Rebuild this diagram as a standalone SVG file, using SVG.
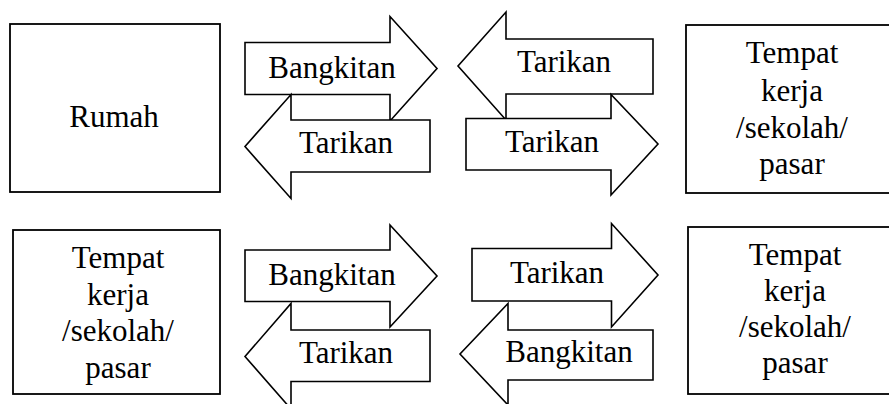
<svg xmlns="http://www.w3.org/2000/svg" width="889" height="404" viewBox="0 0 889 404">
  <style>
    .box { fill: #ffffff; stroke: #000000; stroke-width: 1.8; }
    .arrow { fill: #ffffff; stroke: #000000; stroke-width: 1.6; stroke-linejoin: miter; }
    .lbl { font-family: 'Liberation Serif', 'DejaVu Serif', serif; font-size: 31px; fill: #000000; text-anchor: middle; }
  </style>
  <rect width="889" height="404" fill="#ffffff"/>

  <!-- Places -->
  <g id="rumah">
    <rect class="box" x="10" y="24" width="210" height="168"/>
    <text class="lbl" x="114" y="127">Rumah</text>
  </g>
  <g id="tempat-kanan-atas">
    <rect class="box" x="686" y="25" width="220" height="168"/>
    <text class="lbl" x="792" y="63">Tempat</text>
    <text class="lbl" x="792" y="101">kerja</text>
    <text class="lbl" x="792" y="138">/sekolah/</text>
    <text class="lbl" x="792" y="174">pasar</text>
  </g>
  <g id="tempat-kiri-bawah">
    <rect class="box" x="13" y="230" width="207" height="164"/>
    <text class="lbl" x="118" y="268">Tempat</text>
    <text class="lbl" x="118" y="305">kerja</text>
    <text class="lbl" x="118" y="341">/sekolah/</text>
    <text class="lbl" x="118" y="378">pasar</text>
  </g>
  <g id="tempat-kanan-bawah">
    <rect class="box" x="688" y="227" width="220" height="167"/>
    <text class="lbl" x="795" y="265">Tempat</text>
    <text class="lbl" x="795" y="301">kerja</text>
    <text class="lbl" x="795" y="337">/sekolah/</text>
    <text class="lbl" x="795" y="373">pasar</text>
  </g>

  <!-- Flow arrows -->
  <g id="connectors">
    <g id="a1-bangkitan">
      <polygon class="arrow" points="245,42.5 390,42.5 390,16.5 437,68.5 390,121 390,94.5 245,94.5"/>
      <text class="lbl" x="332" y="78">Bangkitan</text>
    </g>
    <g id="a1-tarikan">
      <polygon class="arrow" points="430,120 291,120 291,94.5 245,146.5 291,198.5 291,172 430,172"/>
      <text class="lbl" x="346" y="153">Tarikan</text>
    </g>
    <g id="a2-tarikan-kiri">
      <polygon class="arrow" points="653,39 506,39 506,12 458,66 506,120 506,94 653,94"/>
      <text class="lbl" x="564" y="72">Tarikan</text>
    </g>
    <g id="a2-tarikan-kanan">
      <polygon class="arrow" points="466,118.5 611,118.5 611,94.5 658,144 611,195 611,170 466,170"/>
      <text class="lbl" x="552" y="152">Tarikan</text>
    </g>
    <g id="a3-bangkitan">
      <polygon class="arrow" points="245,250 390,250 390,225 437,276 390,327 390,301.5 245,301.5"/>
      <text class="lbl" x="332" y="285">Bangkitan</text>
    </g>
    <g id="a3-tarikan">
      <polygon class="arrow" points="430,330 291,330 291,303.5 245,356.5 291,409 291,381.5 430,381.5"/>
      <text class="lbl" x="346" y="363">Tarikan</text>
    </g>
    <g id="a4-tarikan">
      <polygon class="arrow" points="472,248.5 611.5,248.5 611.5,223.5 658,275 611.5,327 611.5,301 472,301"/>
      <text class="lbl" x="557" y="283">Tarikan</text>
    </g>
    <g id="a4-bangkitan">
      <polygon class="arrow" points="653,330 508,330 508,303.5 460,354 508,405 508,380 653,380"/>
      <text class="lbl" x="569" y="362">Bangkitan</text>
    </g>
  </g>
</svg>
